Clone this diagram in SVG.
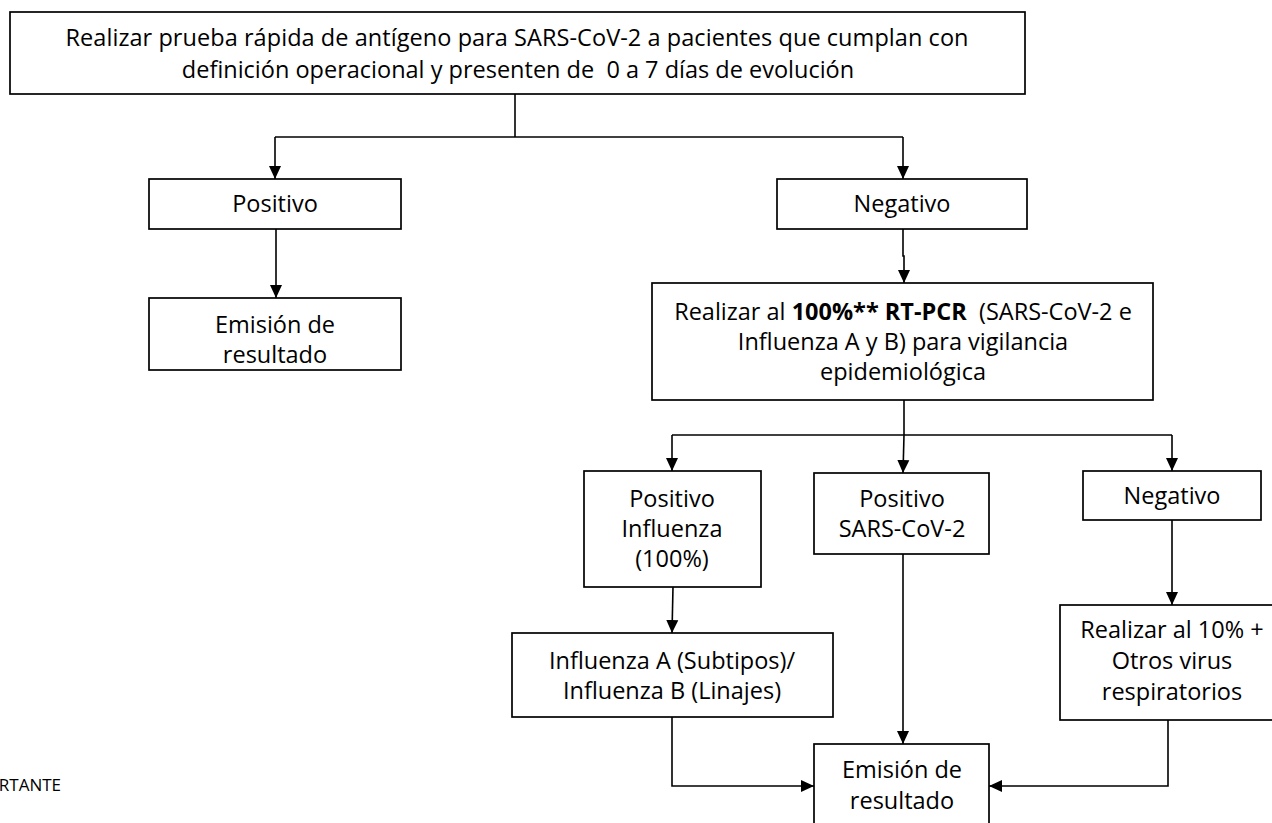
<svg xmlns="http://www.w3.org/2000/svg" width="1272" height="823" viewBox="0 0 1272 823">
<defs>
<marker id="ah" markerUnits="userSpaceOnUse" markerWidth="14" markerHeight="14" viewBox="0 0 14 14" refX="13" refY="7" orient="auto">
<path d="M0,1 L13,7 L0,13 Z" fill="#000"/>
</marker>
<style>
.box{fill:#fff;stroke:#000;stroke-width:1.7}
.t{font-family:"Open Sans","Liberation Sans",sans-serif;font-size:23.5px;fill:#000;text-anchor:middle;white-space:pre}
.c{fill:none;stroke:#000;stroke-width:1.6}
.b{font-weight:bold}
</style>
</defs>
<rect width="1272" height="823" fill="#fff"/>
<g id="connectors">
<path class="c" d="M515 94 V137"/>
<path class="c" d="M275 137 H903"/>
<path class="c" d="M275 137 V179" marker-end="url(#ah)"/>
<path class="c" d="M903 137 V179" marker-end="url(#ah)"/>
<path class="c" d="M276 229 V298" marker-end="url(#ah)"/>
<path class="c" d="M903 229 V256 H904 V283" marker-end="url(#ah)"/>
<path class="c" d="M904 400 V435"/>
<path class="c" d="M672 435 H1172"/>
<path class="c" d="M672 435 V471" marker-end="url(#ah)"/>
<path class="c" d="M904 435 L903 473" marker-end="url(#ah)"/>
<path class="c" d="M1172 435 V471" marker-end="url(#ah)"/>
<path class="c" d="M673 587 L672 633" marker-end="url(#ah)"/>
<path class="c" d="M1172 520 V605" marker-end="url(#ah)"/>
<path class="c" d="M903 554 V744" marker-end="url(#ah)"/>
<path class="c" d="M672 717 V786 H814" marker-end="url(#ah)"/>
<path class="c" d="M1168 720 V786 H989" marker-end="url(#ah)"/>
</g>
<g id="n_top">
<rect class="box" x="10" y="12" width="1015" height="82"/>
<text class="t" x="517" y="46" textLength="903" lengthAdjust="spacing">Realizar prueba rápida de antígeno para SARS-CoV-2 a pacientes que cumplan con</text>
<text class="t" x="518" y="78">definición operacional y presenten de  0 a 7 días de evolución</text>
</g>
<g id="n_pos">
<rect class="box" x="149" y="179" width="252" height="50"/>
<text class="t" x="275" y="212">Positivo</text>
</g>
<g id="n_emision1">
<rect class="box" x="149" y="298" width="252" height="72"/>
<text class="t" x="275" y="333">Emisión de</text>
<text class="t" x="275" y="363">resultado</text>
</g>
<g id="n_neg">
<rect class="box" x="777" y="179" width="250" height="50"/>
<text class="t" x="902" y="212">Negativo</text>
</g>
<g id="n_rtpcr">
<rect class="box" x="652" y="283" width="501" height="117"/>
<text class="t" x="903" y="320">Realizar al <tspan class="b">100%** RT-PCR</tspan>  (SARS-CoV-2 e</text>
<text class="t" x="903" y="350">Influenza A y B) para vigilancia</text>
<text class="t" x="903" y="380">epidemiológica</text>
</g>
<g id="n_posinf">
<rect class="box" x="584" y="471" width="177" height="116"/>
<text class="t" x="672" y="507">Positivo</text>
<text class="t" x="672" y="537">Influenza</text>
<text class="t" x="672" y="567">(100%)</text>
</g>
<g id="n_possars">
<rect class="box" x="814" y="473" width="175" height="81"/>
<text class="t" x="902" y="507">Positivo</text>
<text class="t" x="902" y="537">SARS-CoV-2</text>
</g>
<g id="n_neg2">
<rect class="box" x="1083" y="471" width="178" height="49"/>
<text class="t" x="1172" y="504">Negativo</text>
</g>
<g id="n_infab">
<rect class="box" x="512" y="633" width="321" height="84"/>
<text class="t" x="672" y="669">Influenza A (Subtipos)/</text>
<text class="t" x="672" y="699">Influenza B (Linajes)</text>
</g>
<g id="n_otros">
<rect class="box" x="1060" y="605" width="224" height="115"/>
<text class="t" x="1172" y="638">Realizar al 10% +</text>
<text class="t" x="1172" y="669">Otros virus</text>
<text class="t" x="1172" y="700">respiratorios</text>
</g>
<g id="n_emision2">
<rect class="box" x="814" y="744" width="175" height="90"/>
<text class="t" x="902" y="778">Emisión de</text>
<text class="t" x="902" y="809">resultado</text>
</g>
<text x="61" y="791" style="font-family:'Open Sans','Liberation Sans',sans-serif;font-size:17px;text-anchor:end">RTANTE</text>
</svg>
